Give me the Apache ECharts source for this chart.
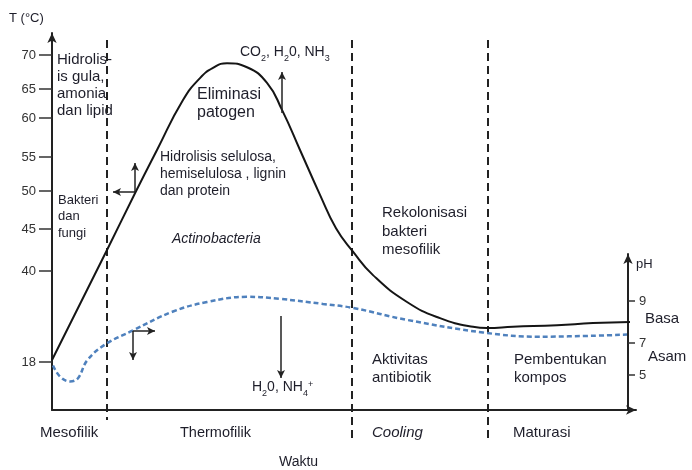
<!DOCTYPE html>
<html>
<head>
<meta charset="utf-8">
<script src="https://cdn.jsdelivr.net/npm/echarts@6/dist/echarts.min.js"></script>
<style>
  html, body { margin: 0; padding: 0; background: #fff; }
  #chart { width: 692px; height: 470px; }
</style>
</head>
<body>
<div id="chart"></div>
<script>
// temperature axis is drawn schematic (uneven spacing): tick value -> height above the time axis
const tempTicks = [18, 40, 45, 50, 55, 60, 65, 70]
const tempLevels = [48, 139, 181, 219, 253, 292, 321, 355]
const phTicks = [5, 7, 9]
const phLevels = [35, 67, 109]

// temperature curve (black)
const timeTemp = [0, 5.5, 8.3, 10.5, 13.1, 14.8, 16.1, 17.5, 19.5, 21.5, 23.0, 24.8, 26.8, 28.4, 30.1, 32.1, 35.5, 38.8, 42.1, 43.5, 46.1, 50.5, 54.1, 57.8]
const temperature = [18.5, 42.5, 49.7, 55.9, 63.1, 66.6, 68.1, 68.8, 68.2, 65.9, 61.4, 55.9, 49.5, 45.1, 42.3, 39.0, 32.5, 28.6, 26.5, 26.2, 26.5, 26.9, 27.4, 27.7]

// pH curve (blue dashed)
const timePh = [0.1, 0.8, 1.8, 2.6, 3.5, 5.3, 8.1, 12.1, 15.5, 19.5, 22.8, 27.1, 30.1, 35.5, 43.1, 48.8, 57.5]
const ph = [5.6, 4.9, 4.6, 4.8, 5.9, 6.9, 7.6, 8.5, 8.95, 9.2, 9.1, 8.86, 8.67, 8.1, 7.5, 7.3, 7.4]

// phase boundaries (time) and their vertical extent in axis units
const phaseEdges = [5.5, 30.0, 43.6]
const edgeTop = [370, 370, 370]
const edgeBottom = [-10, -28, -28]

// annotation arrows: [x1, level1, x2, level2]
const arrows = [
  [8.3, 218, 8.3, 247],
  [8.3, 218, 6.1, 218],
  [23.0, 297, 23.0, 338],
  [22.9, 94, 22.9, 32],
  [8.1, 79, 8.1, 50],
  [8.1, 79, 10.3, 79]
]

const toLevel = (v, ticks, levels) => {
  let i = 0
  while (i < ticks.length - 2 && v > ticks[i + 1]) i++
  return levels[i] + (v - ticks[i]) * (levels[i + 1] - levels[i]) / (ticks[i + 1] - ticks[i])
}

const FONT = '"Liberation Sans", Arial, sans-serif'
const INK = '#1e1e2a'

const txt = (x, y, text, size, extra) => ({
  type: 'text',
  x: x,
  y: y,
  style: Object.assign({
    text: text,
    font: size + 'px ' + FONT,
    fill: INK,
    verticalAlign: 'top',
    lineHeight: size + 3
  }, extra || {})
})

const subRich = {
  sub: { fontSize: 9, fontFamily: FONT, fill: INK, verticalAlign: 'bottom', lineHeight: 15, padding: [0, 0, -3, 0] },
  sup: { fontSize: 9, fontFamily: FONT, fill: INK, verticalAlign: 'top', lineHeight: 15 }
}

const chart = echarts.init(document.getElementById('chart'))

chart.setOption({
  animation: false,
  backgroundColor: '#fff',
  textStyle: { fontFamily: FONT },
  grid: [
    { left: 52, right: 56, top: 33, bottom: 60 },
    { left: 628, width: 2, top: 254, bottom: 60 }
  ],
  xAxis: [
    {
      type: 'value', gridIndex: 0, min: 0, max: 58.4,
      axisLine: { lineStyle: { color: '#222', width: 2 }, symbol: ['none', 'arrow'], symbolSize: [7, 10] },
      axisTick: { show: false }, axisLabel: { show: false }, splitLine: { show: false }
    },
    { type: 'value', gridIndex: 1, min: 0, max: 1, show: false }
  ],
  yAxis: [
    {
      type: 'value', gridIndex: 0, min: 0, max: 377,
      axisLine: { show: true, lineStyle: { color: '#222', width: 2 }, symbol: ['none', 'arrow'], symbolSize: [7, 10] },
      axisTick: { show: true, length: 13, customValues: tempLevels, lineStyle: { color: '#333', width: 1.5 } },
      axisLabel: {
        customValues: tempLevels, margin: 16, fontSize: 13, color: '#333',
        formatter: v => String(tempTicks[tempLevels.indexOf(v)])
      },
      splitLine: { show: false }
    },
    {
      type: 'value', gridIndex: 1, position: 'right', min: 0, max: 156,
      axisLine: { show: true, lineStyle: { color: '#222', width: 2 }, symbol: ['none', 'arrow'], symbolSize: [7, 10] },
      axisTick: { show: true, length: 7, customValues: phLevels, lineStyle: { color: '#333', width: 1.5 } },
      axisLabel: {
        customValues: phLevels, margin: 9, fontSize: 13, color: '#333',
        formatter: v => String(phTicks[phLevels.indexOf(v)])
      },
      splitLine: { show: false }
    }
  ],
  series: [
    {
      type: 'custom',
      xAxisIndex: 0, yAxisIndex: 0,
      silent: true,
      data: phaseEdges.map((x, i) => [x, edgeTop[i], edgeBottom[i]]),
      encode: { x: 0, y: [1, 2] },
      renderItem (params, api) {
        const p1 = api.coord([api.value(0), api.value(1)])
        const p2 = api.coord([api.value(0), api.value(2)])
        return {
          type: 'line',
          shape: { x1: p1[0], y1: p1[1], x2: p2[0], y2: p2[1] },
          style: { stroke: '#222', lineWidth: 2, lineDash: [8, 5] }
        }
      }
    },
    {
      name: 'pH',
      type: 'line',
      xAxisIndex: 0, yAxisIndex: 0,
      data: timePh.map((t, i) => [t, toLevel(ph[i], phTicks, phLevels)]),
      smooth: 0.4,
      showSymbol: false,
      silent: true,
      lineStyle: { color: '#4f81bd', width: 2.5, type: [5, 3] }
    },
    {
      name: 'T',
      type: 'line',
      xAxisIndex: 0, yAxisIndex: 0,
      data: timeTemp.map((t, i) => [t, toLevel(temperature[i], tempTicks, tempLevels)]),
      smooth: 0.5,
      showSymbol: false,
      silent: true,
      lineStyle: { color: '#151515', width: 2 },
      markLine: {
        silent: true,
        symbol: ['none', 'arrow'],
        symbolSize: [6, 8],
        label: { show: false },
        lineStyle: { color: '#222', width: 1.5, type: 'solid' },
        data: arrows.map(a => [{ coord: [a[0], a[1]] }, { coord: [a[2], a[3]] }])
      }
    }
  ],
  graphic: [
    txt(9, 10, 'T (°C)', 13),
    txt(57, 51, 'Hidrolis-\nis gula,\namonia\ndan lipid', 15, { lineHeight: 17 }),
    txt(58, 192, 'Bakteri\ndan\nfungi', 13, { lineHeight: 16.5 }),
    {
      type: 'text', x: 240, y: 45,
      style: {
        text: 'CO{sub|2}, H{sub|2}0, NH{sub|3}',
        font: '14px ' + FONT, fill: INK, verticalAlign: 'top', lineHeight: 15, rich: subRich
      }
    },
    txt(197, 86, 'Eliminasi\npatogen', 16, { lineHeight: 18 }),
    txt(160, 149, 'Hidrolisis selulosa,\nhemiselulosa , lignin\ndan protein', 14, { lineHeight: 17 }),
    txt(172, 231, 'Actinobacteria', 14, { font: 'italic 14px ' + FONT }),
    txt(382, 204, 'Rekolonisasi\nbakteri\nmesofilik', 15, { lineHeight: 18.5 }),
    txt(372, 351, 'Aktivitas\nantibiotik', 15, { lineHeight: 18 }),
    {
      type: 'text', x: 252, y: 380,
      style: {
        text: 'H{sub|2}0, NH{sub|4}{sup|+}',
        font: '14px ' + FONT, fill: INK, verticalAlign: 'top', lineHeight: 15, rich: subRich
      }
    },
    txt(514, 351, 'Pembentukan\nkompos', 15, { lineHeight: 18 }),
    txt(636, 256, 'pH', 13),
    txt(645, 310, 'Basa', 15),
    txt(648, 348, 'Asam', 15),
    txt(40, 424, 'Mesofilik', 15),
    txt(180, 424, 'Thermofilik', 14.5),
    txt(372, 424, 'Cooling', 15, { font: 'italic 15px ' + FONT }),
    txt(513, 424, 'Maturasi', 15),
    txt(279, 454, 'Waktu', 14)
  ]
})
</script>
</body>
</html>
